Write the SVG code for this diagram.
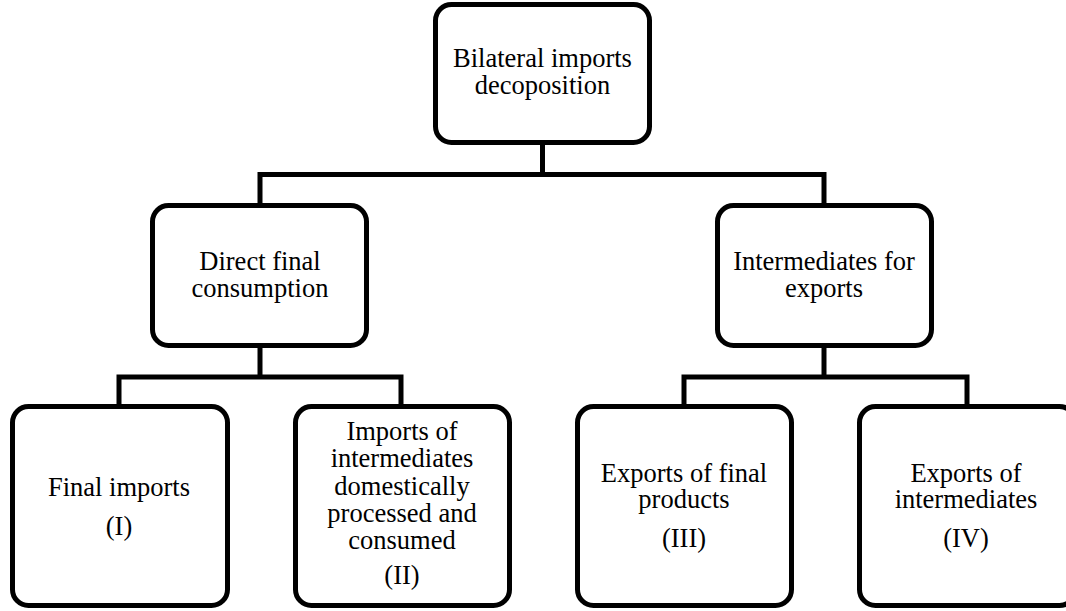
<svg xmlns="http://www.w3.org/2000/svg" width="1066" height="611" viewBox="0 0 1066 611">
<style>
.box{fill:#fff;stroke:#000;stroke-width:5}
.con{fill:none;stroke:#000;stroke-width:5;stroke-linejoin:miter}
text{font-family:"Liberation Serif","Times New Roman",serif;font-size:26.5px;fill:#000;text-anchor:middle}
</style>
<rect width="1066" height="611" fill="#fff"/>
<g id="connectors">
<path class="con" d="M542.5,145 V174.5"/>
<path class="con" d="M260,206 V174.5 H824 V206"/>
<path class="con" d="M260,347 V377"/>
<path class="con" d="M119,406 V377 H401 V406"/>
<path class="con" d="M824,347 V377"/>
<path class="con" d="M684,406 V377 H967 V406"/>
</g>
<g id="n-root">
<rect class="box" x="435.5" y="4.5" width="214" height="138" rx="16"/>
<text x="542.5" y="67">Bilateral imports<tspan x="542.5" dy="27">decoposition</tspan></text>
</g>
<g id="n-direct">
<rect class="box" x="152.5" y="205.5" width="214" height="140" rx="16"/>
<text x="260" y="270">Direct final<tspan x="260" dy="27">consumption</tspan></text>
</g>
<g id="n-interm">
<rect class="box" x="717.5" y="205.5" width="214" height="140" rx="16"/>
<text x="824" y="270">Intermediates for<tspan x="824" dy="27">exports</tspan></text>
</g>
<g id="n-I">
<rect class="box" x="12.5" y="406.5" width="215" height="199" rx="16"/>
<text x="119" y="496">Final imports</text>
<text x="119" y="535">(I)</text>
</g>
<g id="n-II">
<rect class="box" x="295.5" y="406.5" width="214" height="199" rx="16"/>
<text x="402" y="440">Imports of<tspan x="402" dy="27">intermediates</tspan><tspan x="402" dy="28">domestically</tspan><tspan x="402" dy="27">processed and</tspan><tspan x="402" dy="27">consumed</tspan></text>
<text x="402" y="584">(II)</text>
</g>
<g id="n-III">
<rect class="box" x="577.5" y="406.5" width="214" height="199" rx="16"/>
<text x="684" y="482">Exports of final<tspan x="684" dy="26">products</tspan></text>
<text x="684" y="547">(III)</text>
</g>
<g id="n-IV">
<rect class="box" x="859.5" y="406.5" width="216" height="199" rx="16"/>
<text x="966" y="482">Exports of<tspan x="966" dy="26">intermediates</tspan></text>
<text x="966" y="547">(IV)</text>
</g>
</svg>
